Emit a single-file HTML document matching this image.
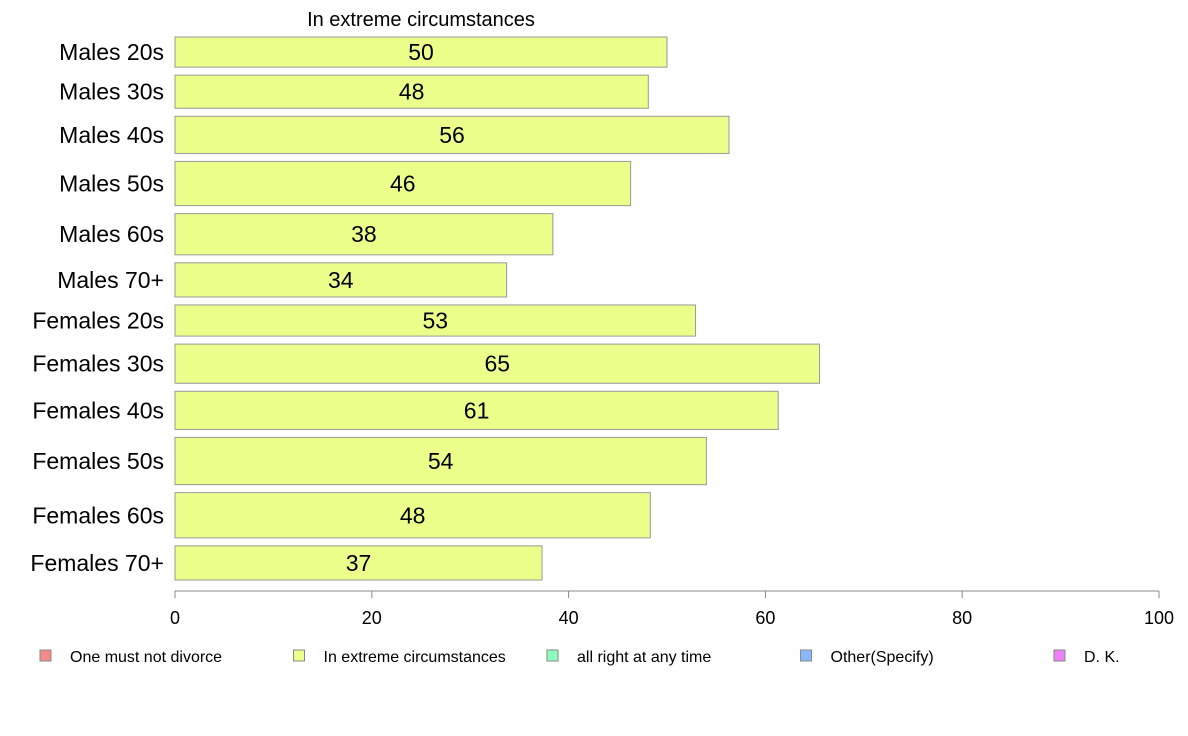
<!DOCTYPE html>
<html><head><meta charset="utf-8"><style>
body{margin:0;background:#fff;}
svg{display:block;font-family:"Liberation Sans",Arial,sans-serif;}
</style></head><body>
<svg id="chart" width="1188" height="736"></svg>
<script>
const categories=["Males 20s","Males 30s","Males 40s","Males 50s","Males 60s","Males 70+","Females 20s","Females 30s","Females 40s","Females 50s","Females 60s","Females 70+"];
const values=[50.0,48.1,56.3,46.3,38.4,33.7,52.9,65.5,61.3,54.0,48.3,37.3];
const labels=["50","48","56","46","38","34","53","65","61","54","48","37"];
const thickness=[30,33,37,44,41,34,31,39,38,47,45,34];
const ticks=[0,20,40,60,80,100];
const legendNames=["One must not divorce","In extreme circumstances","all right at any time","Other(Specify)","D. K."];
const legendColors=["#f58a8a","#ecff8a","#8affbe","#8ab8ff","#ee80f5"];

const NS="http://www.w3.org/2000/svg";
const svg=document.getElementById('chart');
function mk(t,a,txt){const e=document.createElementNS(NS,t);for(const k in a)e.setAttribute(k,a[k]);if(txt!==undefined)e.textContent=txt;svg.appendChild(e);return e;}
const x0=175,x1=1159;
const xs=v=>x0+(x1-x0)*v/100;
const barTop=37,barBottom=580,gap=8;
const tot=thickness.reduce((a,b)=>a+b,0);
const scale=(barBottom-barTop-gap*(categories.length-1))/tot;

let t=mk('text',{x:421,y:26,'font-size':20,'text-anchor':'middle',fill:'#000'},'In extreme circumstances');



let y=barTop;
categories.forEach((c,i)=>{
  const h=thickness[i]*scale;
  const r=mk('rect',{x:x0,y:y,width:xs(values[i])-x0,height:h,fill:'#ecff8a',stroke:'#999','stroke-width':1});
  
  
  const v=mk('text',{x:(x0+xs(values[i]))/2,y:y+h/2+8,'font-size':23,'text-anchor':'middle',fill:'#000'},labels[i]);
  
  
  const l=mk('text',{x:164,y:y+h/2+8,'font-size':23,'text-anchor':'end',fill:'#000'},c);
  
  
  y+=h+gap;
});

const ax=mk('line',{x1:x0,y1:591,x2:x1,y2:591,stroke:'#888','stroke-width':1});


ticks.forEach(v=>{
  const tl=mk('line',{x1:xs(v),y1:591,x2:xs(v),y2:598,stroke:'#888'});
  
  
  const tt=mk('text',{x:xs(v),y:624,'font-size':18,'text-anchor':'middle',fill:'#000'},String(v));
  
  
});

legendNames.forEach((n,i)=>{
  const lx=40+i*253.5;
  const s=mk('rect',{x:lx,y:650,width:11,height:11,fill:legendColors[i],stroke:'#888'});
  
  
  const lt=mk('text',{x:lx+30,y:662,'font-size':16,fill:'#000'},n);
  
  
});
</script>
</body></html>
